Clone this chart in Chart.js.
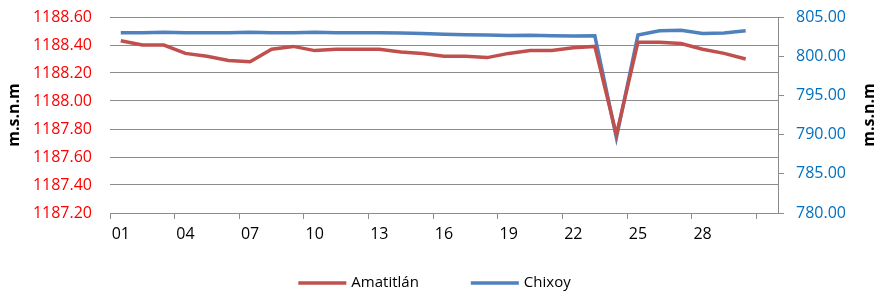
<!DOCTYPE html>
<html>
<head>
<meta charset="utf-8">
<script src="https://cdn.jsdelivr.net/npm/chart.js@4.4.1/dist/chart.umd.min.js"></script>
<style>
  body { margin: 0; background: #fff; }
  #wrap { width: 875px; height: 292px; }
</style>
</head>
<body>
<div id="wrap"><canvas id="levelChart"></canvas></div>
<script>
const days = ['01','02','03','04','05','06','07','08','09','10','11','12','13','14','15','16',
              '17','18','19','20','21','22','23','24','25','26','27','28','29','30','31'];

// Amatitlán level (left axis), Chixoy level (right axis), m.s.n.m
const amatitlan = [1188.43, 1188.40, 1188.40, 1188.34, 1188.32, 1188.29, 1188.28, 1188.37, 1188.39, 1188.36,
                   1188.37, 1188.37, 1188.37, 1188.35, 1188.34, 1188.32, 1188.32, 1188.31, 1188.34, 1188.36,
                   1188.36, 1188.38, 1188.39, 1187.76, 1188.42, 1188.42, 1188.41, 1188.37, 1188.34, 1188.30, null];
const chixoy = [803.00, 803.00, 803.05, 803.00, 803.00, 803.00, 803.05, 803.00, 802.98, 803.05,
                803.00, 803.00, 803.00, 802.95, 802.88, 802.80, 802.75, 802.70, 802.65, 802.68,
                802.62, 802.58, 802.60, 789.60, 802.70, 803.25, 803.30, 802.90, 802.95, 803.25, null];

const leftRange = [1187.2, 1188.6, 0.2];
const rightRange = [780, 805, 5];
const seriesNames = ['Amatitlán', 'Chixoy'];
const seriesColors = ['#C0504D', '#4F81BD'];
const axisTitle = 'm.s.n.m';

const gridGray = '#8c8c8c';
const fontFamily = '"Open Sans", "DejaVu Sans", sans-serif';

// axis titles + legend drawn by hand so the spacing matches
const extras = {
  id: 'extras',
  afterDraw(chart) {
    const c = chart.ctx;
    const area = chart.chartArea;
    const midY = (area.top + area.bottom) / 2;
    c.save();
    c.font = 'bold 16px ' + fontFamily;
    c.fillStyle = '#000';
    c.textAlign = 'center';
    c.textBaseline = 'alphabetic';
    [19, 874].forEach(x => {
      c.save();
      c.translate(x, midY);
      c.rotate(-Math.PI / 2);
      c.fillText(axisTitle, 0, 0);
      c.restore();
    });

    c.font = '15px ' + fontFamily;
    c.textAlign = 'left';
    c.textBaseline = 'middle';
    const boxW = 48, gap = 5, spacing = 52, y = 283;
    const widths = seriesNames.map(n => boxW + gap + c.measureText(n).width);
    const total = widths.reduce((a, b) => a + b, 0) + spacing * (widths.length - 1);
    let x = (chart.width - total) / 2 - 3;
    seriesNames.forEach((name, i) => {
      c.strokeStyle = seriesColors[i];
      c.lineWidth = 3.5;
      c.beginPath();
      c.moveTo(x, y);
      c.lineTo(x + boxW, y);
      c.stroke();
      c.fillStyle = '#000';
      c.fillText(name, x + boxW + gap, y);
      x += widths[i] + spacing;
    });
    c.restore();
  }
};

// keep the plot area fixed: no extra room for the tick labels' overhang
function noOverhang(s) {
  s.paddingTop = 0;
  s.paddingBottom = 0;
}

const ctx = document.getElementById('levelChart').getContext('2d');
new Chart(ctx, {
  type: 'line',
  data: {
    labels: days,
    datasets: [
      {
        label: seriesNames[0],
        data: amatitlan,
        borderColor: seriesColors[0],
        backgroundColor: seriesColors[0],
        borderWidth: 3.5,
        pointRadius: 0,
        tension: 0,
        yAxisID: 'y'
      },
      {
        label: seriesNames[1],
        data: chixoy,
        borderColor: seriesColors[1],
        backgroundColor: seriesColors[1],
        borderWidth: 3.5,
        pointRadius: 0,
        tension: 0,
        yAxisID: 'y1'
      }
    ]
  },
  options: {
    responsive: true,
    maintainAspectRatio: false,
    animation: false,
    layout: { padding: { top: 17, left: 0, right: 0, bottom: 0 } },
    plugins: {
      legend: { display: false },
      tooltip: { enabled: false }
    },
    scales: {
      x: {
        offset: true,
        grid: {
          offset: true,
          drawOnChartArea: false,
          drawTicks: true,
          tickLength: 6,
          color: (c) => (c.index % 3 === 0 ? gridGray : 'rgba(0,0,0,0)')
        },
        border: { display: true, color: gridGray },
        ticks: {
          autoSkip: false,
          maxRotation: 0,
          padding: 6,
          color: '#000',
          font: { family: fontFamily, size: 16 },
          callback: function (v, i) { return (i % 3 === 0 && i < 30) ? days[i] : ''; }
        },
        afterFit: (s) => { s.height = 79; s.paddingLeft = 0; s.paddingRight = 0; }
      },
      y: {
        position: 'left',
        min: leftRange[0],
        max: leftRange[1],
        grid: { color: gridGray, drawTicks: false },
        border: { display: false },
        ticks: {
          stepSize: leftRange[2],
          padding: 18,
          color: '#FF0000',
          font: { family: fontFamily, size: 16 },
          callback: (v) => v.toFixed(2)
        },
        afterFit: (s) => { s.width = 110; noOverhang(s); }
      },
      y1: {
        position: 'right',
        min: rightRange[0],
        max: rightRange[1],
        grid: { drawOnChartArea: false, drawTicks: true, tickLength: 6, color: gridGray },
        border: { display: true, color: gridGray },
        ticks: {
          stepSize: rightRange[2],
          padding: 12,
          color: '#0070C0',
          font: { family: fontFamily, size: 16 },
          callback: (v) => v.toFixed(2)
        },
        afterFit: (s) => { s.width = 97; noOverhang(s); }
      }
    }
  },
  plugins: [extras]
});
</script>
</body>
</html>
